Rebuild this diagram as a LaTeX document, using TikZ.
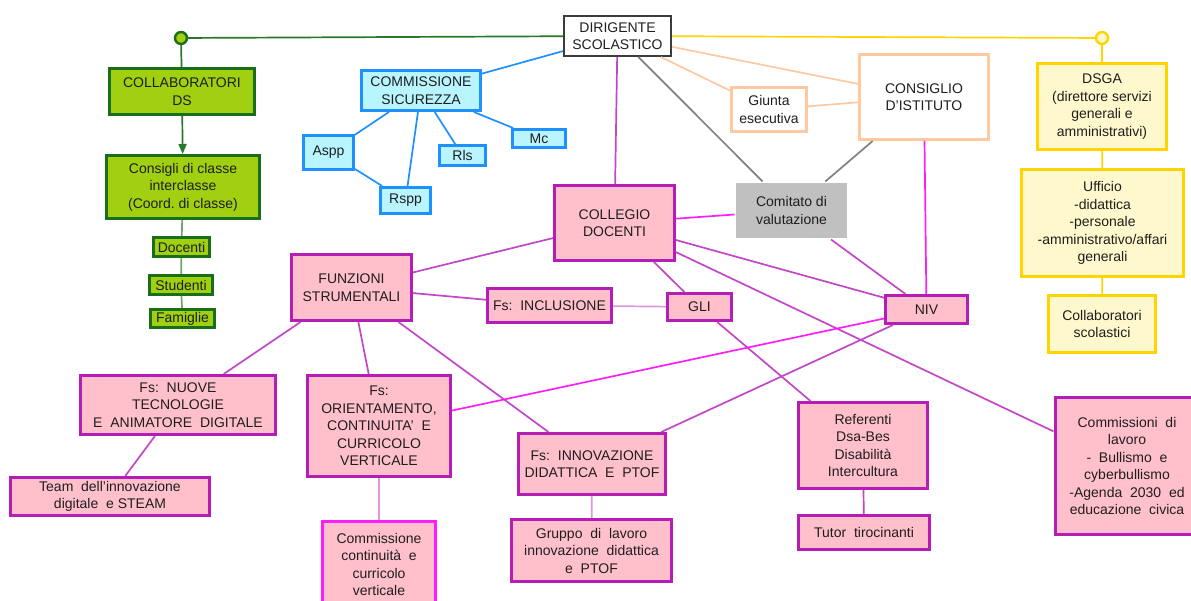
\documentclass[tikz,border=0pt]{standalone}
\usepackage{fontspec}
\setmainfont{Liberation Sans}
\usetikzlibrary{arrows.meta}
\definecolor{txt}{RGB}{30,30,30}
\definecolor{gfill}{RGB}{160,208,16}
\definecolor{gdraw}{RGB}{25,110,25}
\definecolor{gline}{RGB}{40,120,40}
\definecolor{glight}{RGB}{110,165,110}
\definecolor{bfill}{RGB}{185,245,255}
\definecolor{bdraw}{RGB}{30,144,255}
\definecolor{pfill}{RGB}{255,192,203}
\definecolor{pdraw}{RGB}{180,30,180}
\definecolor{pline}{RGB}{195,70,200}
\definecolor{mline}{RGB}{255,30,250}
\definecolor{lline}{RGB}{220,150,220}
\definecolor{peach}{RGB}{255,200,160}
\definecolor{grayfill}{RGB}{192,192,192}
\definecolor{grayline}{RGB}{128,128,128}
\definecolor{ydraw}{RGB}{255,212,0}
\definecolor{yfill}{RGB}{255,248,204}
\definecolor{dsdraw}{RGB}{60,60,60}
\begin{document}
\begin{tikzpicture}[x=1pt,y=-1pt,
  box/.style={draw, line width=3pt, align=center, inner sep=1pt, text=txt,
    font=\fontsize{14}{17.5}\selectfont},
  gbox/.style={box, fill=gfill, draw=gdraw},
  bbox/.style={box, fill=bfill, draw=bdraw},
  pbox/.style={box, fill=pfill, draw=pdraw},
  mbox/.style={box, fill=pfill, draw=mline},
  ybox/.style={box, fill=yfill, draw=ydraw},
  obox/.style={box, fill=white, draw=peach},
  graybox/.style={box, fill=grayfill, draw=none},
  dsbox/.style={box, fill=white, draw=dsdraw, line width=2pt},
  sz/.style 2 args={minimum width=#1pt, minimum height=#2pt},
  conn/.style={line width=1.7pt},
  gconn/.style={conn, draw=gline},
  glconn/.style={conn, draw=glight},
  bconn/.style={conn, draw=bdraw},
  pconn/.style={conn, draw=pline},
  mconn/.style={conn, draw=mline},
  lconn/.style={conn, draw=lline},
  oconn/.style={conn, draw=peach},
  grconn/.style={conn, draw=grayline},
  yconn/.style={conn, draw=ydraw},
  dot/.style={circle, line width=2.4pt, minimum size=12pt, inner sep=0pt}
]
\useasboundingbox (0,0) rectangle (1191,601);

% top
\node[dsbox, sz={107}{40}] (ds) at (617.5,36) {DIRIGENTE\\SCOLASTICO};
\node[dot, draw=gdraw, fill=gfill] (gc) at (181,38) {};
\node[dot, draw=ydraw, fill=yfill] (yc) at (1102,38) {};

% green branch
\node[gbox, sz={145}{46}] (collab) at (182,91.5) {COLLABORATORI\\DS};
\node[gbox, sz={153}{63}] (consigli) at (183,187) {Consigli di classe\\interclasse\\(Coord.\ di classe)};
\node[gbox, sz={56}{19}] (docenti) at (181.5,247) {Docenti};
\node[gbox, sz={63}{19}] (studenti) at (181,285) {Studenti};
\node[gbox, sz={64}{18}] (famiglie) at (182.5,318.5) {Famiglie};

% blue branch
\node[bbox, sz={119}{40}] (comsic) at (421,90.5) {COMMISSIONE\\SICUREZZA};
\node[bbox, sz={50}{34}] (aspp) at (328.5,152.5) {Aspp};
\node[bbox, sz={50}{26}] (rspp) at (405.5,200.5) {Rspp};
\node[bbox, sz={46}{20}] (rls) at (462.5,155.5) {Rls};
\node[bbox, sz={53}{18}] (mc) at (539,138.5) {Mc};

% peach / gray
\node[obox, sz={75}{44}] (giunta) at (769,109.5) {Giunta\\esecutiva};
\node[obox, sz={129}{85}] (consiglio) at (924,97) {CONSIGLIO\\D'ISTITUTO};
\node[graybox, sz={111}{55}] (comitato) at (791.5,210.5) {Comitato di\\valutazione};

% yellow branch
\node[ybox, sz={129}{86}] (dsga) at (1102,106.5) {DSGA\\(direttore servizi\\generali e\\amministrativi)};
\node[ybox, sz={162}{107}] (ufficio) at (1102.5,223) {Ufficio\\-didattica\\-personale\\-amministrativo/affari\\generali};
\node[ybox, sz={107}{57}] (collsc) at (1102,324) {Collaboratori\\scolastici};

% pink branch
\node[pbox, sz={120}{75}] (collegio) at (614.5,223) {COLLEGIO\\DOCENTI};
\node[pbox, sz={82}{28}] (niv) at (926.5,309.5) {NIV};
\node[pbox, sz={120}{66}] (funz) at (351.5,287.5) {FUNZIONI\\STRUMENTALI};
\node[pbox, sz={124}{34}] (incl) at (549.5,305.5) {Fs:\ \ INCLUSIONE};
\node[pbox, sz={64}{27}] (gli) at (699.5,307) {GLI};
\node[pbox, sz={195}{59}] (nuove) at (178,405) {Fs:\ \ NUOVE\\TECNOLOGIE\\E\ \ ANIMATORE\ \ DIGITALE};
\node[pbox, sz={199}{38}] (team) at (110,496.5) {Team\ \ dell'innovazione\\digitale\ \ e STEAM};
\node[pbox, sz={143}{101}] (orient) at (379,426) {Fs:\\ORIENTAMENTO,\\CONTINUITA'\ \ E\\CURRICOLO\\VERTICALE};
\node[mbox, sz={113}{87}] (comcont) at (379,564.5) {Commissione\\continuità\ \ e\\curricolo\\verticale};
\node[pbox, sz={147}{61}] (innov) at (592,464) {Fs:\ \ INNOVAZIONE\\DIDATTICA\ \ E\ \ PTOF};
\node[pbox, sz={160}{62}] (gruppo) at (591.5,550.5) {Gruppo\ \ di\ \ lavoro\\innovazione\ \ didattica\\e\ \ PTOF};
\node[pbox, sz={129}{86}] (ref) at (863,445.5) {Referenti\\Dsa-Bes\\Disabilità\\Intercultura};
\node[pbox, sz={131}{34}] (tutor) at (864,532.5) {Tutor\ \ tirocinanti};
\node[pbox, sz={144}{137}] (comlav) at (1127,466) {Commissioni\ \ di\\lavoro\\-\ \ Bullismo\ \ e\\cyberbullismo\\-Agenda\ \ 2030\ \ ed\\educazione\ \ civica};

% connectors
\draw[gconn] (gc) -- (ds);
\draw[gconn] (gc) -- (collab);
\draw[gconn, -{Triangle[length=10pt,width=8pt]}] (collab) -- (consigli);
\draw[glconn] (consigli) -- (docenti);
\draw[glconn] (docenti) -- (studenti);
\draw[glconn] (studenti) -- (famiglie);

\draw[yconn] (ds) -- (yc);
\draw[yconn] (yc) -- (dsga);
\draw[yconn] (dsga) -- (ufficio);
\draw[yconn] (ufficio) -- (collsc);

\draw[bconn] (ds) -- (comsic);
\draw[bconn] (comsic) -- (aspp);
\draw[bconn] (aspp) -- (rspp);
\draw[bconn] (comsic) -- (rspp);
\draw[bconn] (comsic) -- (rls);
\draw[bconn] (comsic) -- (mc);

\draw[oconn] (ds) -- (giunta);
\draw[oconn] (ds) -- (consiglio);
\draw[oconn] (giunta) -- (consiglio);
\draw[grconn] (ds) -- (comitato);
\draw[grconn] (consiglio) -- (comitato);

\draw[pconn] (ds) -- (collegio);
\draw[mconn] (collegio) -- (comitato);
\draw[mconn] (consiglio) -- (niv);
\draw[pconn] (comitato) -- (niv);
\draw[pconn] (collegio) -- (niv);
\draw[pconn] (collegio) -- (comlav);
\draw[pconn] (collegio) -- (funz);
\draw[pconn] (collegio) -- (gli);
\draw[pconn] (funz) -- (incl);
\draw[lconn] (incl) -- (gli);
\draw[pconn] (gli) -- (ref);
\draw[pconn] (ref) -- (tutor);
\draw[pconn] (funz) -- (nuove);
\draw[pconn] (funz) -- (orient);
\draw[pconn] (funz) -- (innov);
\draw[pconn] (nuove) -- (team);
\draw[lconn] (orient) -- (comcont);
\draw[lconn] (innov) -- (gruppo);
\draw[mconn] (niv) -- (orient);
\draw[pconn] (niv) -- (innov);
\end{tikzpicture}
\end{document}
